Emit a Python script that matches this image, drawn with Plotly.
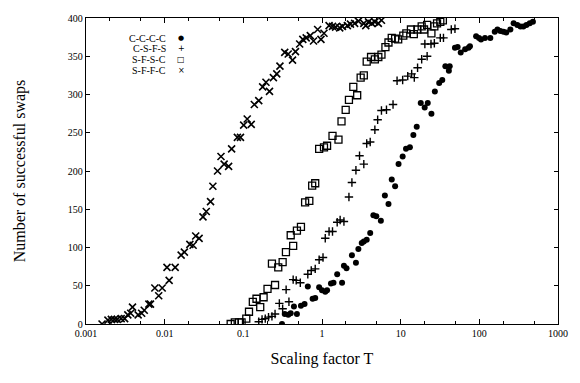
import plotly.graph_objects as go

# S-F-F-C (x markers)
sffc_x = [0.0016, 0.0019, 0.0021, 0.0023, 0.0025, 0.0028, 0.0031, 0.0034, 0.0037, 0.0039,
          0.0046, 0.0051, 0.0055, 0.0063, 0.0066, 0.0075, 0.0084, 0.0093, 0.0107, 0.0114,
          0.0136, 0.0162, 0.0178, 0.0209, 0.023, 0.0248, 0.0274, 0.0307, 0.0338, 0.0383,
          0.041, 0.047, 0.052, 0.057, 0.065, 0.071, 0.084, 0.092, 0.101, 0.112,
          0.126, 0.138, 0.157, 0.176, 0.194, 0.215, 0.241, 0.266, 0.292, 0.336,
          0.372, 0.422, 0.46, 0.52, 0.57, 0.63, 0.71, 0.78, 0.88, 0.97,
          1.06, 1.23, 1.36, 1.49, 1.68, 1.82, 2.1, 2.3, 2.6, 2.9,
          3.4, 3.6, 3.9, 4.3, 4.7, 5.2, 5.7]
sffc_y = [0, 5, 6, 6, 6, 7, 7, 12, 14, 22,
          12, 14, 18, 26, 26, 47, 37, 47, 74, 57,
          74, 90, 94, 104, 103, 115, 112, 140, 147, 160,
          180, 200, 219, 209, 206, 229, 244, 244, 260, 268,
          261, 287, 292, 310, 316, 304, 322, 327, 337, 355,
          353, 345, 356, 366, 372, 374, 377, 370, 385, 372,
          380, 390, 389, 388, 387, 389, 390, 392, 393, 396,
          393, 390, 395, 393, 395, 393, 397]

# S-F-S-C (open squares)
sfsc_x = [0.069, 0.078, 0.088, 0.095, 0.109, 0.118, 0.132, 0.147, 0.164, 0.181,
          0.203, 0.231, 0.253, 0.278, 0.316, 0.348, 0.40, 0.43, 0.48, 0.54,
          0.61, 0.69, 0.75, 0.82, 0.92, 1.06, 1.16, 1.36, 1.62, 1.77,
          2.0, 2.2, 2.5, 2.8, 3.1, 3.4, 3.7, 4.2, 4.7, 5.2,
          5.7, 6.4, 7.0, 7.7, 8.5, 9.3, 10.8, 11.8, 13.5, 14.7,
          16.3, 18.5, 19.8, 21.7, 24.6, 26.8, 29.0, 31.9, 34.4]
sfsc_y = [0, 2, 2, 2, 7, 16, 29, 33, 22, 35,
          46, 79, 51, 74, 81, 94, 116, 102, 122, 127,
          159, 161, 181, 184, 229, 231, 233, 246, 241, 265,
          280, 293, 310, 299, 322, 325, 343, 349, 346, 349,
          352, 362, 368, 374, 373, 372, 377, 380, 385, 379,
          385, 389, 385, 391, 380, 389, 393, 395, 397]

# C-S-F-S (plus markers)
csfs_x = [0.157, 0.173, 0.190, 0.209, 0.231, 0.253, 0.287, 0.316, 0.35, 0.38,
          0.43, 0.47, 0.53, 0.66, 0.73, 0.82, 0.92, 1.03, 1.1, 1.23,
          1.36, 1.56, 1.7, 1.9, 2.2, 2.4, 2.7, 3.0, 3.4, 3.7,
          4.1, 4.7, 5.1, 5.7, 6.6, 8.0, 9.0, 10.6, 12.3, 13.8,
          14.9, 16.4, 18.5, 20.3, 21.7, 24.3, 26.8, 31.9, 35, 44, 49]
csfs_y = [3, 6, 7, 9, 10, 13, 27, 20, 45, 29,
          58, 57, 54, 65, 70, 72, 84, 87, 112, 121,
          121, 133, 136, 134, 166, 185, 201, 220, 209, 236,
          238, 254, 267, 279, 280, 287, 318, 319, 324, 327,
          322, 335, 346, 366, 350, 366, 367, 374, 374, 385, 386]

# C-C-C-C (filled circles)
cccc_x = [0.31, 0.336, 0.372, 0.40, 0.44, 0.48, 0.54, 0.60, 0.66, 0.76,
          0.82, 0.92, 1.0, 1.1, 1.16, 1.3, 1.4, 1.56, 1.8, 1.9,
          2.05, 2.4, 2.7, 2.9, 3.2, 3.4, 3.7, 4.1, 4.5, 4.9,
          5.6, 6.3, 7.0, 7.7, 8.5, 9.4, 10.6, 11.7, 13.1, 14.5,
          16.0, 18.0, 20.2, 22.1, 24.6, 27.2, 30.9, 33.8, 37, 41,
          42, 49, 53, 58, 66, 73, 76, 91, 99, 105,
          118, 138, 157, 170, 185, 203, 220, 248, 273, 304,
          334, 363, 397, 437, 480]
cccc_y = [0, 13, 12, 14, 23, 13, 24, 26, 49, 33,
          34, 48, 44, 42, 44, 53, 54, 65, 54, 76,
          73, 90, 80, 98, 106, 108, 110, 119, 142, 141,
          135, 168, 157, 189, 180, 209, 219, 229, 231, 247,
          258, 289, 283, 289, 275, 304, 315, 319, 337, 331,
          337, 361, 362, 355, 359, 361, 363, 376, 374, 372,
          374, 374, 382, 385, 383, 382, 381, 385, 393, 391,
          389, 389, 391, 393, 395]

series_names = ["C-C-C-C", "C-S-F-S", "S-F-S-C", "S-F-F-C"]
legend_glyphs = ["●", "+", "□", "×"]
x_tickvals = [0.001, 0.01, 0.1, 1, 10, 100, 1000]
x_ticktext = ["0.001", "0.01", "0.1", "1", "10", "100", "1000"]
y_tickvals = [0, 50, 100, 150, 200, 250, 300, 350, 400]

FONT = "Liberation Serif"
fig = go.Figure()

series = [
    (cccc_x, cccc_y, dict(symbol="circle", size=6, color="black")),
    (csfs_x, csfs_y, dict(symbol="cross-thin", size=6, color="black",
                          line=dict(width=1.4, color="black"))),
    (sfsc_x, sfsc_y, dict(symbol="square-open", size=7, color="black",
                          line=dict(width=1.3, color="black"))),
    (sffc_x, sffc_y, dict(symbol="x-thin", size=7, color="black",
                          line=dict(width=1.6, color="black"))),
]
for (xs, ys, mk), nm in zip(series, series_names):
    fig.add_trace(go.Scatter(x=xs, y=ys, mode="markers", marker=mk,
                             name=nm, showlegend=False))

# legend: label text, symbol to its right
label_y = [0.934, 0.899, 0.864, 0.829]
glyph_size = [7, 8, 8, 8]
for nm, gl, gs, yy in zip(series_names, legend_glyphs, glyph_size, label_y):
    fig.add_annotation(x=0.174, y=yy, xref="paper", yref="paper", text=nm,
                       showarrow=False, xanchor="right", yanchor="middle",
                       font=dict(family=FONT, size=10, color="black"))
    fig.add_annotation(x=0.202, y=yy, xref="paper", yref="paper", text=gl,
                       showarrow=False, xanchor="center", yanchor="middle",
                       font=dict(family="DejaVu Sans", size=gs, color="black"))

axis_common = dict(showline=True, linecolor="black", linewidth=1.3,
                   mirror="allticks", ticks="inside", tickcolor="black",
                   showgrid=False, zeroline=False,
                   tickfont=dict(family=FONT, size=10, color="black"))

fig.update_xaxes(type="log", range=[-3, 3], tickvals=x_tickvals, ticktext=x_ticktext,
                 ticklen=5, minor=dict(ticks="inside", ticklen=3, tickcolor="black",
                                       showgrid=False),
                 title=dict(text="Scaling factor T", standoff=14,
                            font=dict(family=FONT, size=16, color="black")),
                 **axis_common)
fig.update_yaxes(range=[0, 400], tickvals=y_tickvals, ticklen=4,
                 title=dict(text="Number of successful swaps", standoff=38,
                            font=dict(family=FONT, size=16, color="black")),
                 **axis_common)

fig.update_layout(
    width=580, height=383,
    margin=dict(l=86, r=14, t=13, b=59),
    paper_bgcolor="white", plot_bgcolor="white",
    showlegend=False,
)

fig.write_html("out.html")
